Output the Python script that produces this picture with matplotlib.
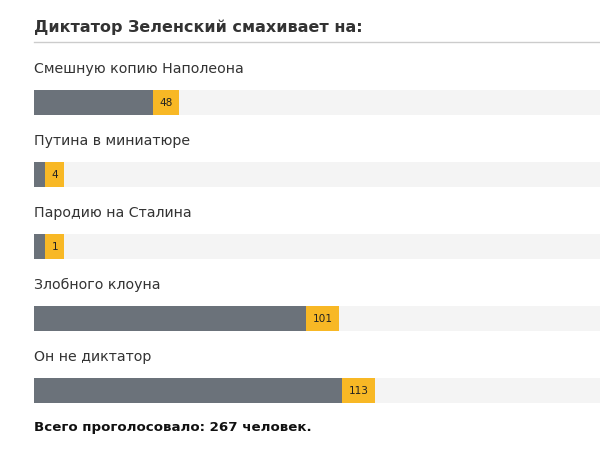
import numpy as np
import matplotlib
matplotlib.use('Agg')
from matplotlib import pyplot as plt

plt.rcParams['font.family'] = ['DejaVu Sans']

# данные опроса
options = ['Смешную копию Наполеона', 'Путина в миниатюре', 'Пародию на Сталина',
           'Злобного клоуна', 'Он не диктатор']
votes = [48, 4, 1, 101, 113]
total = 267

title = 'Диктатор Зеленский смахивает на:'
footer = 'Всего проголосовало: ' + str(total) + ' человек.'

gray = '#6b727a'
yellow = '#f8b825'
track = '#f4f4f4'

W, H = 600, 460
px = 3.02  # пикселей на один голос
fig = plt.figure(figsize=(W / 100, H / 100), dpi=100)
# ось от x=34px до правого края
ax = fig.add_axes([34 / W, 0, 1 - 34 / W, 1])
xmax = (W - 34) / px
ax.set_xlim(0, xmax)
ax.set_ylim((H - 103.5) / 72, -103.5 / 72)
ax.axis('off')

y = np.arange(len(options))
min_w = 10  # минимальная ширина полосы
widths = np.maximum(votes, min_w)
# ширина жёлтой плашки зависит от числа цифр
box_w = np.array([(12 + 7 * len(str(v))) / px for v in votes])
bh = 25 / 72

ax.barh(y, xmax, height=bh, color=track, left=0)
ax.barh(y, widths, height=bh, color=gray, left=0)
ax.barh(y, box_w, height=bh, color=yellow, left=widths - box_w)

for i in range(len(options)):
    ax.text(0, i - 34.5 / 72, options[i], fontsize=10.2, color='#333333',
            va='center', ha='left')
    ax.text(widths[i] - box_w[i] / 2, i, str(votes[i]), ha='center',
            va='center', fontsize=7.6, color='#222222')

fig.text(34 / W, 1 - 27 / H, title, fontsize=11.5, fontweight='bold',
         color='#333333', va='center', ha='left')
fig.add_artist(plt.Line2D([34 / W, 1], [1 - 43 / H, 1 - 43 / H],
                          color='#cccccc', lw=1))
fig.text(34 / W, 1 - 428 / H, footer, fontsize=9.6, fontweight='bold',
         color='#111111', va='center', ha='left')

fig.savefig('out.png', dpi=100)
